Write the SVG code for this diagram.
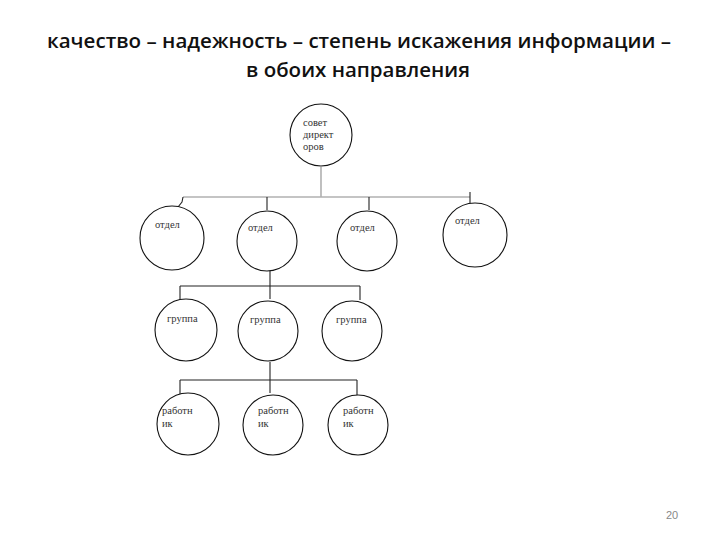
<svg xmlns="http://www.w3.org/2000/svg" width="720" height="540" viewBox="0 0 720 540">
<style>
.n{fill:#fff;stroke:#111;stroke-width:1.1}
.t{font-family:"Liberation Serif","DejaVu Serif",serif;font-size:10.5px;fill:#333}
.c{fill:none;stroke:#222;stroke-width:1.1}
.g{fill:none;stroke:#b0b0b0;stroke-width:1.6}
.h{font-family:"Open Sans","Noto Sans",sans-serif;font-size:19px;font-weight:600;fill:#111}
</style>
<rect width="720" height="540" fill="#fff"/>
<text class="h" x="359" y="48" text-anchor="middle" textLength="624" lengthAdjust="spacingAndGlyphs">качество – надежность – степень искажения информации –</text>
<text class="h" x="358" y="77" text-anchor="middle" textLength="224" lengthAdjust="spacingAndGlyphs">в обоих направления</text>
<g id="connectors">
<line class="g" x1="321" y1="167" x2="321" y2="197"/>
<line class="g" x1="183" y1="197" x2="470" y2="197"/>
<polyline class="c" points="183,197 182,202 178,207"/>
<line class="c" x1="267" y1="197" x2="267" y2="210"/>
<line class="c" x1="369" y1="197" x2="369" y2="210"/>
<line class="c" x1="470" y1="192" x2="470" y2="203"/>
<line class="c" x1="270" y1="271" x2="270" y2="299"/>
<line class="c" x1="180" y1="286" x2="360" y2="286"/>
<line class="c" x1="180" y1="286" x2="180" y2="299"/>
<line class="c" x1="360" y1="286" x2="360" y2="300"/>
<line class="c" x1="270" y1="362" x2="270" y2="393"/>
<line class="c" x1="180" y1="380" x2="357" y2="380"/>
<line class="c" x1="180" y1="380" x2="180" y2="394"/>
<line class="c" x1="357" y1="380" x2="357" y2="395"/>
</g>
<g id="board"><circle class="n" cx="321" cy="135" r="31"/>
<text class="t" x="303" y="126">совет</text><text class="t" x="303" y="138">директ</text><text class="t" x="303" y="150">оров</text></g>
<g id="dept1"><circle class="n" cx="172" cy="238" r="32"/><text class="t" x="155" y="228">отдел</text></g>
<g id="dept2"><circle class="n" cx="267" cy="241" r="30"/><text class="t" x="248" y="231">отдел</text></g>
<g id="dept3"><circle class="n" cx="367" cy="241" r="30"/><text class="t" x="350" y="231">отдел</text></g>
<g id="dept4"><circle class="n" cx="475" cy="235" r="32"/><text class="t" x="455" y="224">отдел</text></g>
<g id="group1"><circle class="n" cx="186" cy="330" r="31"/><text class="t" x="167" y="322">группа</text></g>
<g id="group2"><circle class="n" cx="268" cy="331" r="30"/><text class="t" x="250" y="323">группа</text></g>
<g id="group3"><circle class="n" cx="352" cy="331" r="30"/><text class="t" x="336" y="323">группа</text></g>
<g id="worker1"><circle class="n" cx="188" cy="424" r="31"/><text class="t" x="162" y="414">работн</text><text class="t" x="162" y="427">ик</text></g>
<g id="worker2"><circle class="n" cx="273" cy="425" r="30"/><text class="t" x="258" y="414">работн</text><text class="t" x="258" y="427">ик</text></g>
<g id="worker3"><circle class="n" cx="358" cy="425" r="30"/><text class="t" x="343" y="414">работн</text><text class="t" x="343" y="427">ик</text></g>
<text x="666" y="519" font-family="'Liberation Sans',sans-serif" font-size="11" fill="#888">20</text>
</svg>
